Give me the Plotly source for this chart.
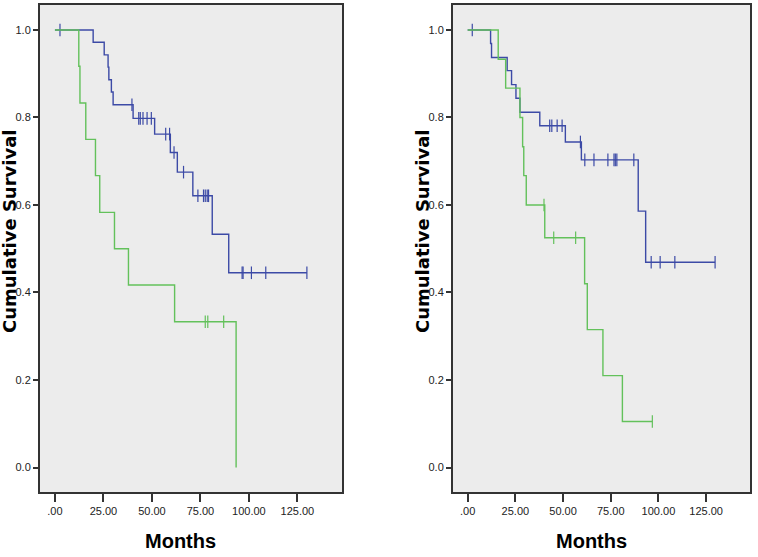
import plotly.graph_objects as go

# ---- data ----
x_tickvals = [0, 25, 50, 75, 100, 125]
x_ticktext = [".00", "25.00", "50.00", "75.00", "100.00", "125.00"]
y_tickvals = [0.0, 0.2, 0.4, 0.6, 0.8, 1.0]
y_ticktext = ["0.0", "0.2", "0.4", "0.6", "0.8", "1.0"]

# Left panel
left_blue_t = [0, 19.7, 25.4, 27.4, 27.8, 29.1, 30.0, 40.3, 51.4, 59.5, 63.1, 71.1, 81.1, 89.6, 129.9]
left_blue_s = [1.0, 0.972, 0.943, 0.915, 0.886, 0.858, 0.829, 0.798, 0.762, 0.720, 0.675, 0.621, 0.533, 0.445, 0.445]
left_blue_cens_t = [2.6, 39.7, 43.2, 44.0, 45.4, 47.5, 49.7, 57.1, 59.1, 61.4, 66.3, 73.7, 76.6, 77.5, 78.5, 79.2, 96.5, 97.0, 101.3, 108.7, 129.9]
left_blue_cens_s = [1.0, 0.829, 0.798, 0.798, 0.798, 0.798, 0.798, 0.762, 0.762, 0.720, 0.675, 0.621, 0.621, 0.621, 0.621, 0.621, 0.445, 0.445, 0.445, 0.445, 0.445]

left_green_t = [0, 12.3, 12.9, 15.9, 20.9, 23.1, 30.7, 37.9, 61.7, 93.4]
left_green_s = [1.0, 0.917, 0.833, 0.75, 0.667, 0.583, 0.5, 0.417, 0.333, 0.0]
left_green_cens_t = [77.5, 78.8, 87.0]
left_green_cens_s = [0.333, 0.333, 0.333]

# Right panel
right_blue_t = [0, 12.0, 12.5, 20.7, 23.0, 25.3, 27.4, 37.8, 51.2, 59.6, 89.4, 93.3, 129.7]
right_blue_s = [1.0, 0.969, 0.937, 0.907, 0.875, 0.844, 0.812, 0.781, 0.744, 0.703, 0.586, 0.469, 0.469]
right_blue_cens_t = [2.4, 43.0, 44.1, 46.9, 49.5, 59.1, 61.4, 66.2, 73.5, 76.7, 77.4, 78.2, 87.1, 96.2, 100.9, 108.6, 129.7]
right_blue_cens_s = [1.0, 0.781, 0.781, 0.781, 0.781, 0.744, 0.703, 0.703, 0.703, 0.703, 0.703, 0.703, 0.703, 0.469, 0.469, 0.469, 0.469]

right_green_t = [0, 16.0, 19.9, 27.4, 28.8, 29.4, 30.7, 40.4, 61.3, 62.7, 70.9, 81.1, 96.8]
right_green_s = [1.0, 0.933, 0.867, 0.8, 0.733, 0.667, 0.6, 0.525, 0.42, 0.315, 0.21, 0.105, 0.105]
right_green_cens_t = [40.0, 45.1, 56.6, 96.8]
right_green_cens_s = [0.6, 0.525, 0.525, 0.105]

BLUE = "#3c4aa6"
GREEN = "#63c15b"
AXIS = "#333333"
TICKFONT = dict(family="Liberation Sans, Arial, sans-serif", size=11, color="#222")

fig = go.Figure()

def add_curve(t, s, ct, cs, color, xa, ya):
    fig.add_trace(go.Scatter(x=t, y=s, mode="lines", line=dict(color=color, width=1.4, shape="hv"),
                             xaxis=xa, yaxis=ya, showlegend=False, hoverinfo="skip"))
    fig.add_trace(go.Scatter(x=ct, y=cs, mode="markers",
                             marker=dict(symbol="line-ns", size=9, line=dict(color=color, width=1.2)),
                             xaxis=xa, yaxis=ya, showlegend=False, hoverinfo="skip"))

add_curve(left_blue_t, left_blue_s, left_blue_cens_t, left_blue_cens_s, BLUE, "x", "y")
add_curve(left_green_t, left_green_s, left_green_cens_t, left_green_cens_s, GREEN, "x", "y")
add_curve(right_blue_t, right_blue_s, right_blue_cens_t, right_blue_cens_s, BLUE, "x2", "y2")
add_curve(right_green_t, right_green_s, right_green_cens_t, right_green_cens_s, GREEN, "x2", "y2")

W, H = 758, 557
ydom = [1 - 492 / H, 1 - 5 / H]

common_x = dict(range=[-7.7, 148], tickvals=x_tickvals, ticktext=x_ticktext, showgrid=False, zeroline=False,
                showline=True, linecolor=AXIS, linewidth=2, mirror=True, ticks="outside", ticklen=8,
                tickcolor=AXIS, tickwidth=1.5, tickfont=TICKFONT)
common_y = dict(range=[-0.056, 1.057], tickvals=y_tickvals, ticktext=y_ticktext, showgrid=False, zeroline=False,
                showline=True, linecolor=AXIS, linewidth=2, mirror=True, ticks="outside", ticklen=5,
                tickcolor=AXIS, tickwidth=1.5, tickfont=TICKFONT)

fig.update_layout(
    width=W, height=H,
    margin=dict(l=0, r=0, t=0, b=0),
    paper_bgcolor="white",
    plot_bgcolor="#ececec",
    xaxis=dict(domain=[40 / W, 342 / W], anchor="y", **common_x),
    yaxis=dict(domain=ydom, anchor="x", **common_y),
    xaxis2=dict(domain=[453 / W, 750 / W], anchor="y2", **common_x),
    yaxis2=dict(domain=ydom, anchor="x2", **common_y),
)

title_font = dict(family="DejaVu Sans, Verdana, sans-serif", size=18, color="#000")
months_font = dict(family="Liberation Sans, Arial, sans-serif", size=20, color="#000")
for xc, txt in [(10, "<b>Cumulative Survival</b>"), (423, "<b>Cumulative Survival</b>")]:
    fig.add_annotation(x=xc / W, y=1 - 231 / H, xref="paper", yref="paper", text=txt, showarrow=False,
                       textangle=-90, font=title_font, xanchor="center", yanchor="middle")
for xc in [180, 591]:
    fig.add_annotation(x=xc / W, y=1 - 541 / H, xref="paper", yref="paper", text="<b>Months</b>",
                       showarrow=False, font=months_font, xanchor="center", yanchor="middle")

fig.write_html("out.html", config={"displayModeBar": False},
               post_script="document.body.style.margin='0';document.body.style.padding='0';")
